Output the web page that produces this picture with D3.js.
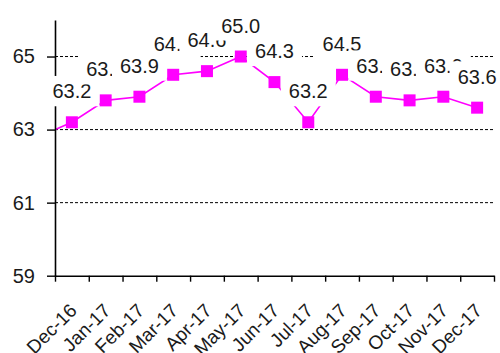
<!DOCTYPE html>
<html>
<head>
<meta charset="utf-8">
<script src="https://cdn.jsdelivr.net/npm/d3@7/dist/d3.min.js"></script>
<style>
  html, body { margin: 0; padding: 0; background: #fff; }
  svg { display: block; }
  text { font-family: "Liberation Sans", Arial, sans-serif; fill: #1a1a1a; }
</style>
</head>
<body>
<script>
// Monthly index readings
const months = ["Dec-16", "Jan-17", "Feb-17", "Mar-17", "Apr-17", "May-17", "Jun-17",
                "Jul-17", "Aug-17", "Sep-17", "Oct-17", "Nov-17", "Dec-17"];
const values = [63.2, 63.8, 63.9, 64.5, 64.6, 65.0, 64.3, 63.2, 64.5, 63.9, 63.8, 63.9, 63.6];
// Reading for the month before the window; only its connecting segment shows, clipped at the axis
const leadIn = 62.8;
const yTicks = [59, 61, 63, 65];
const gridTicks = [61, 63, 65];
const yDomain = [59, 66];

const W = 500, H = 353;
const plot = { left: 55, right: 494, top: 20, bottom: 275.7 };
const magenta = "#ff00ff";

const svg = d3.select("body").append("svg").attr("width", W).attr("height", H);

const x = d3.scaleBand().domain(months).range([plot.left, plot.right]);
const cx = d => x(d) + x.bandwidth() / 2;
const y = d3.scaleLinear().domain(yDomain).range([plot.bottom, plot.top]);

// Horizontal dashed gridlines
svg.append("g").selectAll("line").data(gridTicks).join("line")
  .attr("x1", plot.left).attr("x2", plot.right)
  .attr("y1", d => y(d)).attr("y2", d => y(d))
  .attr("stroke", "#000").attr("stroke-width", 1)
  .attr("stroke-dasharray", "3,2");

// Clip region for the series line
svg.append("clipPath").attr("id", "plotClip").append("rect")
  .attr("x", plot.left).attr("y", plot.top)
  .attr("width", plot.right - plot.left).attr("height", plot.bottom - plot.top);

const pts = values.map((v, i) => [cx(months[i]), y(v)]);
const linePts = [[cx(months[0]) - x.step(), y(leadIn)], ...pts];

svg.append("path")
  .attr("clip-path", "url(#plotClip)")
  .attr("d", d3.line()(linePts))
  .attr("fill", "none").attr("stroke", magenta).attr("stroke-width", 1.6);

// Square markers
const ms = 12;
svg.append("g").selectAll("rect").data(values).join("rect")
  .attr("x", (d, i) => cx(months[i]) - ms / 2)
  .attr("y", d => y(d) - ms / 2)
  .attr("width", ms).attr("height", ms)
  .attr("fill", magenta);

// Y axis
const yAxis = svg.append("g").attr("transform", `translate(${plot.left},0)`)
  .call(d3.axisLeft(y).tickValues(yTicks).tickSize(8).tickSizeOuter(0).tickPadding(12)
        .tickFormat(d3.format("d")));
yAxis.select(".domain").attr("stroke", "#000").attr("stroke-width", 1.6);
yAxis.selectAll(".tick line").attr("stroke", "#000").attr("stroke-width", 1.4);
yAxis.selectAll(".tick text").attr("font-size", 20).attr("fill", "#1a1a1a")
  .attr("font-family", "Liberation Sans, Arial, sans-serif");

// X axis with ticks on category boundaries
const xb = d3.scaleLinear().domain([0, months.length]).range([plot.left, plot.right]);
const xAxis = svg.append("g").attr("transform", `translate(0,${plot.bottom})`)
  .call(d3.axisBottom(xb).tickValues(d3.range(months.length + 1)).tickSize(6)
        .tickSizeOuter(0).tickFormat(""));
xAxis.select(".domain").attr("stroke", "#000").attr("stroke-width", 1.6);
xAxis.selectAll(".tick line").attr("stroke", "#000").attr("stroke-width", 1.4);

// Rotated month labels
svg.append("g").selectAll("text").data(months).join("text")
  .attr("transform", d => `translate(${cx(d) + 6},${plot.bottom + 36}) rotate(-45)`)
  .attr("text-anchor", "end")
  .attr("font-size", 19)
  .text(d => d);

// Value labels on white boxes, each drawn over the previous ones
const fs = 20, padX = 8, padY = 8, capH = 0.716 * fs;
const fmt = d3.format(".1f");
const labels = svg.append("g");
values.forEach((v, i) => {
  const g = labels.append("g");
  const px = cx(months[i]);
  const base = y(v) - 24;
  const box = g.append("rect").attr("fill", "#fff");
  const t = g.append("text")
    .attr("x", px).attr("y", base)
    .attr("text-anchor", "middle")
    .attr("font-size", fs)
    .text(fmt(v));
  const w = t.node().getComputedTextLength();
  box.attr("x", px - w / 2 - padX).attr("y", base - capH - padY)
     .attr("width", w + 2 * padX).attr("height", capH + 2 * padY);
});
</script>
</body>
</html>
